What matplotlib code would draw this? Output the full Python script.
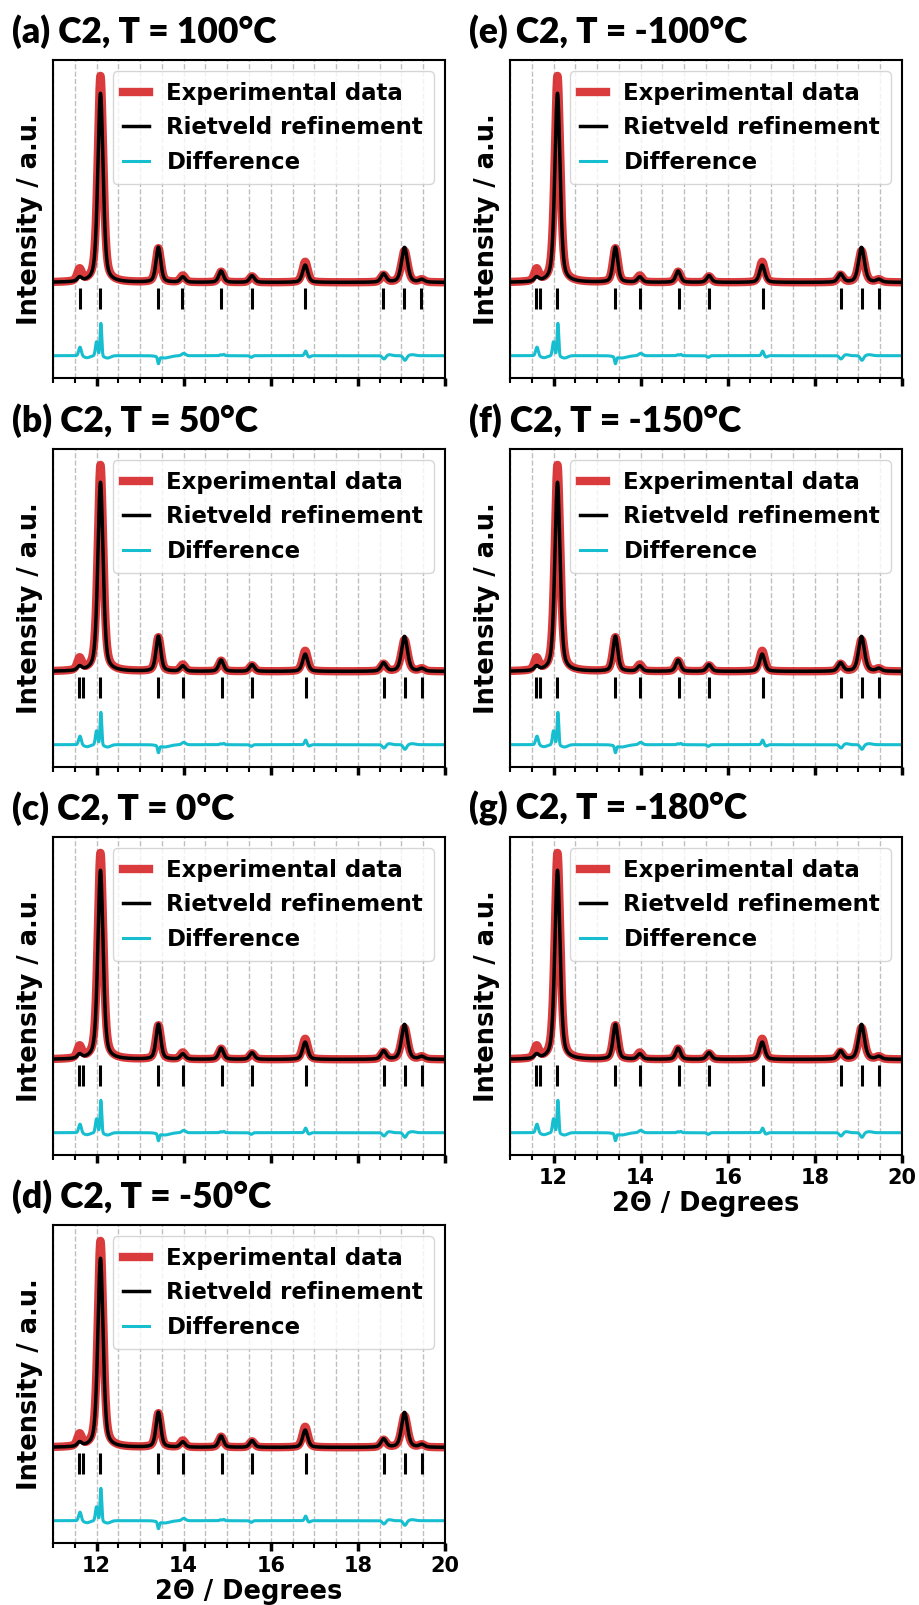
import numpy as np
import matplotlib
matplotlib.use('Agg')
import matplotlib.pyplot as plt
from matplotlib.ticker import MultipleLocator

# Panel titles (temperature series)
titles = ['(a) C2, T = 100°C', '(b) C2, T = 50°C', '(c) C2, T = 0°C', '(d) C2, T = -50°C',
          '(e) C2, T = -100°C', '(f) C2, T = -150°C', '(g) C2, T = -180°C']

# Peaks (2theta in degrees, heights in a.u.)
peak_pos = [11.61, 12.09, 13.42, 13.98, 14.86, 15.57, 16.79, 18.59, 19.07, 19.47]
exp_height = [0.36, 6.20, 1.02, 0.20, 0.32, 0.18, 0.62, 0.22, 0.95, 0.08]
calc_height = [0.12, 5.68, 1.05, 0.16, 0.34, 0.20, 0.52, 0.25, 1.05, 0.08]
peak_hwhm = [0.06, 0.072, 0.065, 0.065, 0.065, 0.065, 0.07, 0.07, 0.08, 0.07]

# Difference curve features
diff_pos = [11.62, 11.78, 12.00, 12.10, 12.25, 13.42, 13.55, 14.00, 14.85, 14.92,
            15.55, 16.80, 16.88, 18.60, 18.72, 19.08, 19.25]
diff_amp = [0.26, -0.06, 0.42, 0.98, -0.07, -0.20, -0.07, 0.07, 0.03, 0.04,
            -0.05, 0.14, -0.04, -0.10, 0.03, -0.14, 0.03]
diff_hw = [0.035, 0.08, 0.03, 0.022, 0.08, 0.022, 0.15, 0.05, 0.025, 0.025,
           0.035, 0.03, 0.04, 0.045, 0.06, 0.045, 0.08]
diff_offset = -2.2

# Reflection markers (Bragg positions)
refl_a = [11.62, 12.08, 13.41, 13.97, 14.85, 15.57, 16.79, 18.57, 19.06, 19.46]
refl_other = [11.59, 11.69, 12.09, 13.42, 13.98, 14.87, 15.57, 16.80, 18.61, 19.08, 19.47]


def pv(x, pos, h, w, eta=0.45):
    d = ((x - pos) / w) ** 2
    return h * (eta / (1 + d) + (1 - eta) * np.exp(-np.log(2) * d))


def gauss(x, pos, h, w):
    return h * np.exp(-np.log(2) * ((x - pos) / w) ** 2)


x = np.linspace(11, 20, 3001)
exp_curve = sum(pv(x, p, h, w * 1.05) for p, h, w in zip(peak_pos, exp_height, peak_hwhm))
calc_curve = sum(pv(x, p, h, w) for p, h, w in zip(peak_pos, calc_height, peak_hwhm))
diff_curve = diff_offset + sum(gauss(x, p, a, w) for p, a, w in zip(diff_pos, diff_amp, diff_hw))

fig = plt.figure(figsize=(9.19, 16.05), dpi=100)

W, H = 919, 1605
col_left = [53, 510]
ax_w = 392
ax_h = 318
row_bottom = [378, 767, 1155, 1543]

layout = [(0, 0), (0, 1), (0, 2), (0, 3), (1, 0), (1, 1), (1, 2)]
with_xlabels = [3, 6]

for i, (col, row) in enumerate(layout):
    left = col_left[col] / W
    bottom = (H - row_bottom[row]) / H
    ax = fig.add_axes([left, bottom, ax_w / W, ax_h / H])

    ax.plot(x, exp_curve, color='#d62728', lw=6, alpha=0.9, label='Experimental data')
    ax.plot(x, calc_curve, color='black', lw=2.5, label='Rietveld refinement')
    ax.plot(x, diff_curve, color='#17becf', lw=2.2, label='Difference')
    refl = refl_a if i == 0 else refl_other
    ax.vlines(refl, -0.8, -0.17, color='black', lw=2.2)

    ax.set_xlim(11, 20)
    ax.set_ylim(-2.87, 6.68)
    ax.set_yticks([])
    ax.xaxis.set_major_locator(MultipleLocator(2))
    ax.xaxis.set_minor_locator(MultipleLocator(0.5))
    ax.tick_params(axis='x', which='major', direction='out', length=6, width=2.5, labelsize=15)
    ax.tick_params(axis='x', which='minor', direction='out', length=3.5, width=1.5)
    ax.grid(True, which='both', axis='x', linestyle='--', color='gray', alpha=0.5, lw=1)
    for s in ax.spines.values():
        s.set_linewidth(1.5)

    if i in with_xlabels:
        for lab in ax.get_xticklabels():
            lab.set_fontweight('bold')
        ax.set_xlabel('2Θ / Degrees', fontsize=18.5, fontweight='bold', labelpad=2)
    else:
        ax.tick_params(axis='x', labelbottom=False)

    ax.set_ylabel('Intensity / a.u.', fontsize=18.5, fontweight='bold')
    ax.yaxis.set_label_coords(-0.025, 0.5)

    ax.legend(loc='upper right', prop={'size': 16.5, 'weight': 'bold'},
              handlelength=1.15, handletextpad=0.75, labelspacing=0.5,
              borderpad=0.45, borderaxespad=0.5)

    ax.text(-0.105, 1 + 17 / ax_h, titles[i], transform=ax.transAxes, ha='left', va='baseline',
            fontsize=25.5, fontweight='heavy', family=['Lato', 'DejaVu Sans'])

fig.savefig('out.png', dpi=100)
